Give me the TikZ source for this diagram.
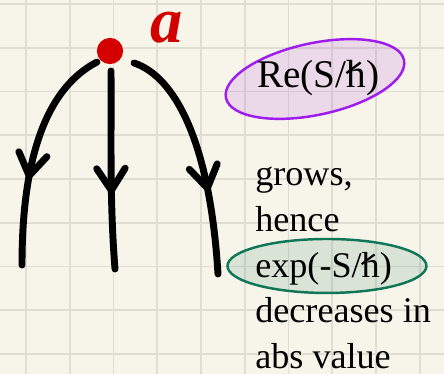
\documentclass[tikz,border=0pt]{standalone}
\usepackage{fontspec}
\setmainfont{Liberation Serif}
\usetikzlibrary{arrows.meta,decorations.markings}
\definecolor{paper}{RGB}{247,245,233}
\definecolor{gridgray}{RGB}{224,222,210}
\definecolor{inkred}{RGB}{212,0,0}
\definecolor{penviolet}{RGB}{158,28,238}
\definecolor{pengreen}{RGB}{16,118,88}
\tikzset{
  pen/.style={line width=4.5pt, line cap=round, line join=round},
  midarrow/.style={postaction={decorate}, decoration={markings, mark=at position #1 with {\arrow{Straight Barb[round,length=5mm,width=6.5mm]}}}},
  body/.style={anchor=base west, inner sep=0pt, font=\fontsize{23.5}{28}\selectfont},
}
% upright h with a slanted stroke
\newcommand{\hb}{\ooalign{h\cr\kern-0.02em\raisebox{0.33em}{\rotatebox{37}{\rule{0.45em}{0.06em}}}\hidewidth\cr}}

\begin{document}
\begin{tikzpicture}
\useasboundingbox (0,0) rectangle (10.149,8.549);
\fill[paper] (0,0) rectangle (10.149,8.549);
\foreach \x in {0,...,9} \draw[gridgray, line width=1.2pt] (\x+0.594,0) -- (\x+0.594,8.549);
\foreach \y in {0,...,8} \draw[gridgray, line width=1.2pt] (0,\y+0.457) -- (10.149,\y+0.457);
% the point a and the paths leaving it
\node[circle, fill=inkred, minimum size=0.6cm, inner sep=0pt] (dot) at (2.514,7.383) {};
\node[inkred, anchor=base, inner sep=0pt, font=\fontsize{42}{42}\selectfont\bfseries\itshape] (alab) at (3.82,7.58) {a};
\coordinate (l0) at (2.217,7.131); \coordinate (l1) at (0.503,2.491);
\coordinate (m0) at (2.537,6.926); \coordinate (m1) at (2.629,2.400);
\coordinate (r0) at (3.063,7.109); \coordinate (r1) at (4.983,2.286);
\draw[pen, midarrow=0.62] (l0) .. controls (1.0,6.5) and (0.5,4.8) .. (l1);
\draw[pen, midarrow=0.62] (m0) .. controls (2.55,5.5) and (2.5,4.0) .. (m1);
\draw[pen, midarrow=0.65] (r0) .. controls (4.0,6.8) and (4.8,5.3) .. (r1);
% the notes
\draw[penviolet, line width=1.6pt, fill=penviolet, fill opacity=0.13, shift={(7.2,6.743)}, rotate=12] (0,0) ellipse (2.08 and 0.82);
\draw[pengreen, line width=1.6pt, fill=pengreen, fill opacity=0.13] (7.474,2.469) ellipse (2.274 and 0.617);
\node[body, font=\fontsize{25.5}{30}\selectfont] (re) at (5.874,6.560) {Re(S/\hb)};
\node[body] (grows) at (5.829,4.320) {grows,};
\node[body] (hence) at (5.829,3.246) {hence};
\node[body] (expS) at (5.829,2.217) {exp(-S/\hb)};
\node[body] (decr) at (5.829,1.166) {decreases in};
\node[body] (absv) at (5.829,0.137) {abs value};
\end{tikzpicture}
\end{document}
